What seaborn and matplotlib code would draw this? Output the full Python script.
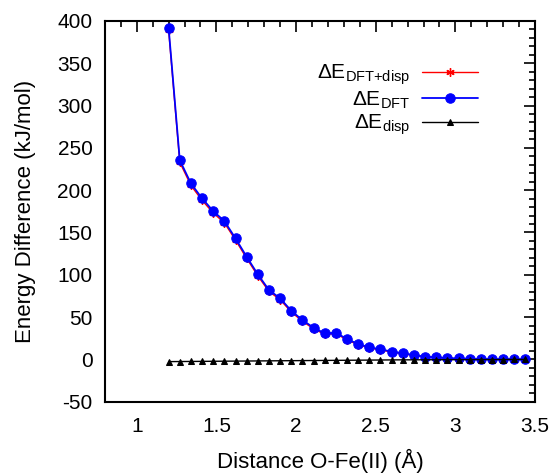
import numpy as np
import pandas as pd
import matplotlib
matplotlib.use("Agg")
import matplotlib.pyplot as plt
import seaborn as sns

# ------------------------------------------------------------------------------
# Data
distance = [1.20, 1.27, 1.34, 1.41, 1.48, 1.55, 1.62, 1.69, 1.76, 1.83, 1.90,
            1.97, 2.04, 2.11, 2.18, 2.25, 2.32, 2.39, 2.46, 2.53, 2.60, 2.67,
            2.74, 2.81, 2.88, 2.95, 3.02, 3.09, 3.16, 3.23, 3.30, 3.37, 3.44]

e_dft = [392.0, 235.5, 208.0, 190.3, 175.3, 163.5, 143.0, 121.3, 100.5, 82.0,
         72.2, 57.5, 46.5, 37.5, 30.8, 31.5, 24.1, 18.2, 14.3, 11.9, 9.3,
         7.2, 5.2, 3.2, 2.5, 1.6, 1.1, 0.8, 0.5, 0.3, 0.2, 0.1, 0.0]

e_disp = [-2.6, -2.5, -2.4, -2.3, -2.2, -2.1, -2.0, -1.9, -1.8, -1.7, -1.6,
          -1.5, -1.4, -1.3, -1.2, -1.1, -1.0, -0.9, -0.8, -0.7, -0.6, -0.5,
          -0.5, -0.4, -0.4, -0.3, -0.3, -0.3, -0.2, -0.2, -0.2, -0.1, -0.1]

e_total = [a + b for a, b in zip(e_dft, e_disp)]

# ------------------------------------------------------------------------------
sns.set_style("white")
plt.rcParams["font.family"] = ["Liberation Sans", "DejaVu Sans"]
plt.rcParams["mathtext.fontset"] = "custom"
plt.rcParams["mathtext.rm"] = "Liberation Sans"
plt.rcParams["mathtext.it"] = "Liberation Sans"
plt.rcParams["axes.unicode_minus"] = False
plt.rcParams["text.color"] = "black"
plt.rcParams["axes.labelcolor"] = "black"
plt.rcParams["xtick.color"] = "black"
plt.rcParams["ytick.color"] = "black"

fig = plt.figure(figsize=(5.55, 4.73), dpi=100)
ax = fig.add_axes([0.189, 0.1507, 0.775, 0.805])

sns.lineplot(x=distance, y=e_total, ax=ax, color="red", linewidth=1.0,
             marker=(6, 2, 0), markersize=6, markeredgecolor="red",
             markeredgewidth=1.0, label=r"$\Delta$E$_{\mathrm{DFT{+}disp}}$")
sns.lineplot(x=distance, y=e_dft, ax=ax, color="blue", linewidth=1.3,
             marker="o", markersize=6.8, markeredgecolor="blue",
             label=r"$\Delta$E$_{\mathrm{DFT}}$")
sns.lineplot(x=distance, y=e_disp, ax=ax, color="black", linewidth=1.0,
             marker="^", markersize=5, markeredgecolor="black",
             label=r"$\Delta$E$_{\mathrm{disp}}$")

ax.set_xlim(0.8, 3.5)
ax.set_ylim(-50, 400)
ax.set_xticks([1, 1.5, 2, 2.5, 3, 3.5])
ax.set_xticklabels(["1", "1.5", "2", "2.5", "3", "3.5"])
ax.set_yticks(np.arange(-50, 401, 50))
ax.set_xticks(np.arange(0.8, 3.51, 0.1), minor=True)
ax.set_yticks(np.arange(-50, 401, 10), minor=True)

ax.tick_params(which="both", direction="in", top=True, right=True,
               labelsize=15, width=1.2)
ax.tick_params(which="major", length=8)
ax.tick_params(which="minor", length=4)
ax.tick_params(axis="x", pad=11)
ax.tick_params(axis="y", pad=9)
for s in ax.spines.values():
    s.set_linewidth(1.5)
    s.set_color("black")

ax.set_xlabel("Distance O-Fe(II) (Å)", fontsize=16, labelpad=9)
ax.set_ylabel("Energy Difference (kJ/mol)", fontsize=16, labelpad=15)

# markerfirst=False right-aligns the rows, labels sit left of the samples
ax.legend(loc="upper right", bbox_to_anchor=(0.867, 0.89), frameon=False,
          markerfirst=False, fontsize=15, handlelength=2.7, borderpad=0,
          borderaxespad=0, labelspacing=0.1, handletextpad=0.55)

plt.savefig("out.png", dpi=100)
